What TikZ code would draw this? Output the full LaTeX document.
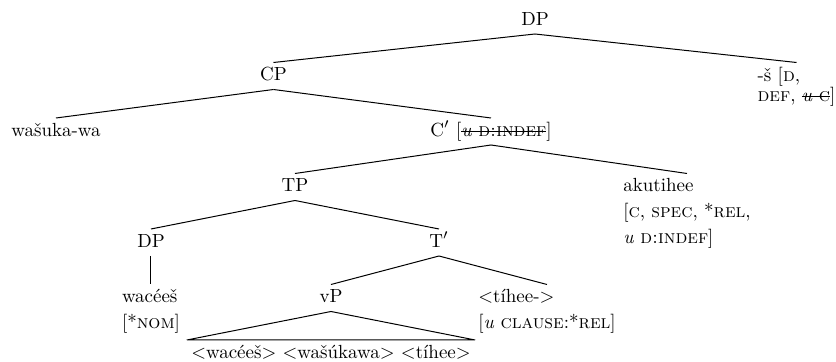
\documentclass[tikz,border=0pt]{standalone}
\newsavebox\strikebox
\newcommand\struck[1]{\sbox\strikebox{#1}\rlap{\rule[0.55ex]{\wd\strikebox}{0.45pt}}\usebox\strikebox}
\newcommand\treefont{\fontsize{9.5}{13}\selectfont}
\newcommand\featfont{\fontsize{9.5}{10}\selectfont}

\begin{document}
\begin{tikzpicture}
[-,line width=0.5pt,level distance=21pt,%
  parent anchor=south,child anchor=north,
  every node/.style={anchor=north,inner sep=2pt,font=\treefont,
    text height=7pt,text depth=2pt},
  multi/.style={align=left,text height=,text depth=}]
\useasboundingbox (-267.5pt,3.5pt) rectangle (150.5pt,-177.5pt);
\node (dp) {DP}
  [sibling distance=261.5pt]
  child {node (cp) {CP}
    [sibling distance=217.5pt]
    child {node (wasuka) {wašuka-wa}}
    child {node (cbar) {C$'$ [\struck{\textit{u} \textsc{d:indef}}]}
      [sibling distance=196pt]
      child {node (tp) {TP}
        [sibling distance=144pt]
        child {node (dpsubj) {DP}
          child {node[multi] (wacees) {wacéeš\\{[}*\textsc{nom}{]}}}
        }
        child {node (tbar) {T$'$}
          [sibling distance=108pt]
          child {node (vp) {vP}
            child[edge from parent path={(\tikzparentnode.south)
                -- (\tikzchildnode.north west) -- (\tikzchildnode.north east)
                -- cycle}]
              {node (base) {<wacéeš> <wašúkawa> <tíhee>}}
          }
          child {node[multi] (tihee) {<tíhee->\\{[}\textit{u} \textsc{clause}:*\textsc{rel}{]}}}
        }
      }
      child {node[multi] (akutihee) {akutihee\\{[}\textsc{c}, \textsc{spec}, *\textsc{rel},\\\textit{u} \textsc{d:indef}{]}}}
    }
  }
  child {node[multi,font=\featfont] (s) {-š [\textsc{d},\\\textsc{def}, \struck{\textit{u} \textsc{c}}]}};
\end{tikzpicture}
\end{document}
